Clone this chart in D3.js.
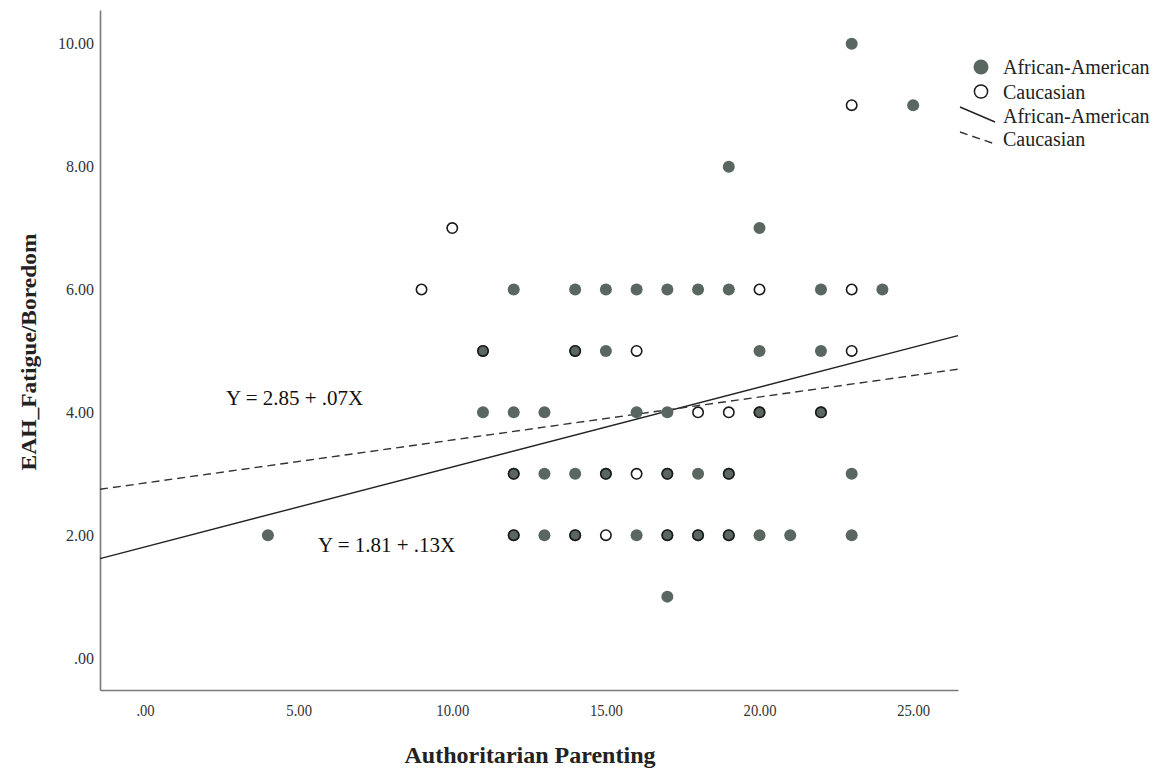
<!DOCTYPE html>
<html>
<head>
<meta charset="utf-8">
<script src="https://cdn.jsdelivr.net/npm/d3@7"></script>
<style>
  body { margin: 0; background: #fff; }
  text { font-family: "Liberation Serif", "Times New Roman", serif; }
</style>
</head>
<body>
<script>
var w = 1159;
var h = 772;

// African-American (filled markers)
var aaX = [23, 25, 19, 20,
  12, 14, 15, 16, 17, 18, 19, 22, 24,
  11, 14, 15, 20, 22,
  11, 12, 13, 16, 17, 20, 22,
  12, 13, 14, 15, 17, 18, 19, 23,
  4, 12, 13, 14, 16, 17, 18, 19, 20, 21, 23,
  17];
var aaY = [10, 9, 8, 7,
  6, 6, 6, 6, 6, 6, 6, 6, 6,
  5, 5, 5, 5, 5,
  4, 4, 4, 4, 4, 4, 4,
  3, 3, 3, 3, 3, 3, 3, 3,
  2, 2, 2, 2, 2, 2, 2, 2, 2, 2, 2,
  1];

// Caucasian (hollow markers)
var cauX = [23, 10, 9, 20, 23,
  11, 14, 16, 23,
  18, 19, 20, 22,
  12, 15, 16, 17, 19,
  12, 14, 15, 17, 18, 19];
var cauY = [9, 7, 6, 6, 6,
  5, 5, 5, 5,
  4, 4, 4, 4,
  3, 3, 3, 3, 3,
  2, 2, 2, 2, 2, 2];

// fit lines: African-American, Caucasian
var fitNames = ["African-American", "Caucasian"];
var intercepts = [1.81, 2.85];
var slopes = [0.13, 0.07];
var fitLabels = ["Y = 1.81 + .13X", "Y = 2.85 + .07X"];

var xTicks = [0, 5, 10, 15, 20, 25];
var yTicks = [0, 2, 4, 6, 8, 10];

var fmt = function(d) { return d === 0 ? ".00" : d.toFixed(2); };

var x = d3.scaleLinear().domain([-1.465, 26.46]).range([100, 958]);
var y = d3.scaleLinear().domain([-0.52, 10.55]).range([690, 10]);

var svg = d3.select("body").append("svg")
  .attr("width", w)
  .attr("height", h);

// axes
var xAxis = svg.append("g")
  .attr("transform", "translate(0,690)")
  .call(d3.axisBottom(x).tickValues(xTicks).tickSize(0).tickPadding(14).tickFormat(fmt));
var yAxis = svg.append("g")
  .attr("transform", "translate(100,0)")
  .call(d3.axisLeft(y).tickValues(yTicks).tickSize(0).tickPadding(6).tickFormat(fmt));

[xAxis, yAxis].forEach(function(a) {
  a.select(".domain").attr("stroke", "#7a7a7a").attr("stroke-width", 1.6);
  a.selectAll("text")
    .attr("font-family", "Liberation Serif, serif")
    .attr("fill", "#333");
});
yAxis.selectAll("text").attr("font-size", 16);
// x tick labels look a little condensed in the original
xAxis.selectAll("text")
  .attr("font-size", 17)
  .each(function() {
    var len = this.getComputedTextLength();
    d3.select(this).attr("textLength", len * 0.86).attr("lengthAdjust", "spacingAndGlyphs");
  });

// fit lines
var lineGen = d3.line().x(function(d) { return x(d[0]); }).y(function(d) { return y(d[1]); });
var x0 = x.domain()[0], x1 = x.domain()[1];
svg.selectAll(".fit")
  .data(fitNames)
  .enter()
  .append("path")
  .attr("class", "fit")
  .attr("d", function(d, i) {
    return lineGen([[x0, intercepts[i] + slopes[i] * x0], [x1, intercepts[i] + slopes[i] * x1]]);
  })
  .attr("fill", "none")
  .attr("stroke", function(d, i) { return i === 0 ? "#222" : "#333"; })
  .attr("stroke-width", 1.4)
  .attr("stroke-dasharray", function(d, i) { return i === 0 ? null : "8,5"; });

// points
svg.selectAll(".aa")
  .data(aaX)
  .enter()
  .append("circle")
  .attr("class", "aa")
  .attr("cx", function(d) { return x(d); })
  .attr("cy", function(d, i) { return y(aaY[i]); })
  .attr("r", 6)
  .attr("fill", "#5a6660");

svg.selectAll(".cau")
  .data(cauX)
  .enter()
  .append("circle")
  .attr("class", "cau")
  .attr("cx", function(d) { return x(d); })
  .attr("cy", function(d, i) { return y(cauY[i]); })
  .attr("r", 5.2)
  .attr("fill", "none")
  .attr("stroke", "#1a1a1a")
  .attr("stroke-width", 1.6);

// equation labels
svg.append("text")
  .attr("x", 318).attr("y", 552)
  .attr("font-size", 21).attr("fill", "#111")
  .text(fitLabels[0]);
svg.append("text")
  .attr("x", 226).attr("y", 405)
  .attr("font-size", 21).attr("fill", "#111")
  .text(fitLabels[1]);

// axis titles
svg.append("text")
  .attr("x", 530).attr("y", 763)
  .attr("text-anchor", "middle")
  .attr("font-size", 23).attr("font-weight", "bold").attr("fill", "#222")
  .attr("textLength", 251).attr("lengthAdjust", "spacingAndGlyphs")
  .text("Authoritarian Parenting");
svg.append("text")
  .attr("transform", "translate(36,352) rotate(-90)")
  .attr("text-anchor", "middle")
  .attr("font-size", 22).attr("font-weight", "bold").attr("fill", "#222")
  .attr("textLength", 237).attr("lengthAdjust", "spacingAndGlyphs")
  .text("EAH_Fatigue/Boredom");

// legend
var leg = svg.append("g");
leg.append("circle").attr("cx", 981).attr("cy", 67).attr("r", 7.5).attr("fill", "#5a6660");
leg.append("circle").attr("cx", 981).attr("cy", 91.5).attr("r", 6.6).attr("fill", "none")
  .attr("stroke", "#1a1a1a").attr("stroke-width", 1.5);
leg.append("line").attr("x1", 960).attr("y1", 107).attr("x2", 995).attr("y2", 122)
  .attr("stroke", "#222").attr("stroke-width", 1.4);
leg.append("line").attr("x1", 960).attr("y1", 132).attr("x2", 995).attr("y2", 144)
  .attr("stroke", "#333").attr("stroke-width", 1.4).attr("stroke-dasharray", "8,5");
var legText = [fitNames[0], fitNames[1], fitNames[0], fitNames[1]];
var legY = [74, 99, 123, 146];
leg.selectAll(".lt")
  .data(legText)
  .enter()
  .append("text")
  .attr("class", "lt")
  .attr("x", 1003)
  .attr("y", function(d, i) { return legY[i]; })
  .attr("font-size", 20)
  .attr("fill", "#222")
  .text(function(d) { return d; });
</script>
</body>
</html>
